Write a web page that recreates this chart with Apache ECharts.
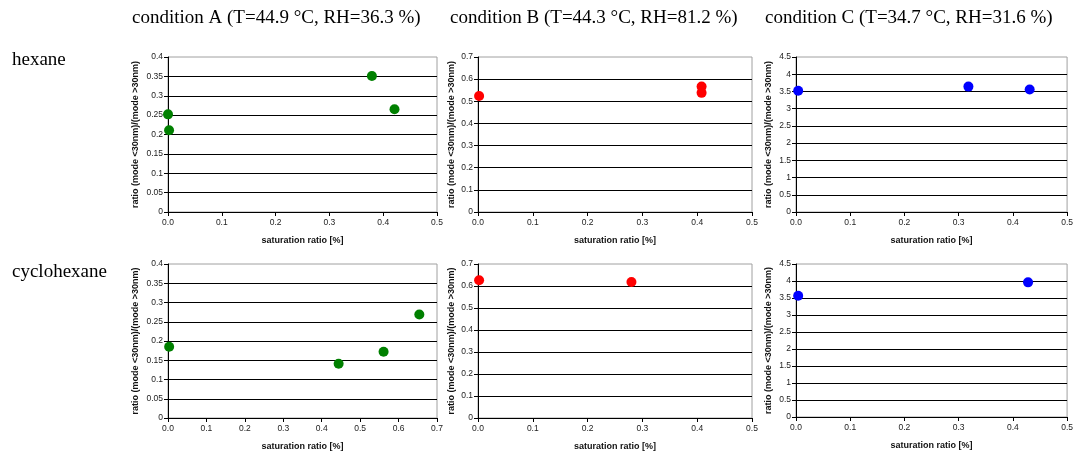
<!DOCTYPE html>
<html><head><meta charset="utf-8">
<script src="https://cdn.jsdelivr.net/npm/echarts@6/dist/echarts.min.js"></script>
<style>html,body{margin:0;padding:0;background:#fff}#c{width:1076px;height:452px}</style>
</head><body><div id="c"></div>
<script>
// Column / row labels
const columnTitles = ['condition A (T=44.9 \u00B0C, RH=36.3 %)', 'condition B (T=44.3 \u00B0C, RH=81.2 %)', 'condition C (T=34.7 \u00B0C, RH=31.6 %)'];
const rowTitles = ['hexane', 'cyclohexane'];
const xAxisTitle = 'saturation ratio [%]';
const yAxisTitle = 'ratio (mode <30nm)/(mode >30nm)';

// Data: [saturation ratio, ratio]
const hexaneA_x = [0.000, 0.002, 0.379, 0.421];
const hexaneA_y = [0.252, 0.211, 0.351, 0.265];
const hexaneB_x = [0.002, 0.408, 0.408];
const hexaneB_y = [0.524, 0.567, 0.538];
const hexaneC_x = [0.004, 0.318, 0.431];
const hexaneC_y = [3.52, 3.64, 3.555];
const cycloA_x = [0.003, 0.444, 0.561, 0.654];
const cycloA_y = [0.185, 0.141, 0.172, 0.269];
const cycloB_x = [0.002, 0.280];
const cycloB_y = [0.626, 0.618];
const cycloC_x = [0.004, 0.428];
const cycloC_y = [3.565, 3.96];

// axis ranges per panel
const xMax = [0.5, 0.5, 0.5, 0.7, 0.5, 0.5];
const yMax = [0.4, 0.7, 4.5, 0.4, 0.7, 4.5];
const yStep = [0.05, 0.1, 0.5, 0.05, 0.1, 0.5];
const colors = ['#008000', '#ff0000', '#0000ff', '#008000', '#ff0000', '#0000ff'];

const panelsX = [hexaneA_x, hexaneB_x, hexaneC_x, cycloA_x, cycloB_x, cycloC_x];
const panelsY = [hexaneA_y, hexaneB_y, hexaneC_y, cycloA_y, cycloB_y, cycloC_y];

const gridRects = [
  {left: 168, top: 57, width: 269, height: 155},
  {left: 478, top: 57, width: 274, height: 155},
  {left: 796, top: 57, width: 272, height: 155},
  {left: 168, top: 264, width: 269, height: 155},
  {left: 478, top: 264, width: 274, height: 155},
  {left: 796, top: 264, width: 272, height: 153}
];
const yNameGap = [28, 22, 23, 28, 22, 23];

const labelFont = {fontFamily: 'Liberation Sans, Arial', fontSize: 8.5, color: '#222'};
const nameFont = {fontFamily: 'Liberation Sans, Arial', fontSize: 9, fontWeight: 'bold', color: '#111'};

const grids = [], xAxes = [], yAxes = [], series = [];
for (let i = 0; i < 6; i++) {
  grids.push(Object.assign({show: true, borderColor: '#a0a0a0', borderWidth: 1, containLabel: false}, gridRects[i]));
  xAxes.push({
    type: 'value', gridIndex: i, min: 0, max: xMax[i], interval: 0.1,
    name: xAxisTitle, nameLocation: 'middle', nameGap: 24, nameTextStyle: nameFont,
    axisLine: {lineStyle: {color: '#000', width: 1}},
    axisTick: {show: true, inside: false, length: 4, lineStyle: {color: '#000'}},
    axisLabel: Object.assign({margin: 6, formatter: v => v.toFixed(1)}, labelFont),
    splitLine: {show: false}
  });
  yAxes.push({
    type: 'value', gridIndex: i, min: 0, max: yMax[i], interval: yStep[i],
    name: yAxisTitle, nameLocation: 'middle', nameGap: yNameGap[i], nameTextStyle: nameFont,
    axisLine: {lineStyle: {color: '#000', width: 1}},
    axisTick: {show: true, inside: false, length: 4, lineStyle: {color: '#000'}},
    axisLabel: Object.assign({margin: 5, formatter: v => String(+v.toFixed(2))}, labelFont),
    splitLine: {show: true, showMinLine: false, showMaxLine: false, lineStyle: {color: '#000', width: 1}}
  });
  series.push({
    type: 'scatter', xAxisIndex: i, yAxisIndex: i, clip: false,
    symbol: 'circle', symbolSize: 10,
    itemStyle: {color: colors[i], opacity: 1},
    data: panelsX[i].map((x, k) => [x, panelsY[i][k]])
  });
}

const serif = 'Liberation Serif, Times New Roman, serif';
const graphics = [];
const colLefts = [132, 450, 765];
columnTitles.forEach((t, i) => graphics.push({type: 'text', left: colLefts[i], top: 9, style: {text: t, font: '19px ' + serif, fill: '#000'}}));
const rowTops = [51, 263];
rowTitles.forEach((t, i) => graphics.push({type: 'text', left: 12, top: rowTops[i], style: {text: t, font: '19px ' + serif, fill: '#000'}}));

const chart = echarts.init(document.getElementById('c'), null, {renderer: 'canvas'});
chart.setOption({
  animation: false,
  backgroundColor: '#fff',
  grid: grids, xAxis: xAxes, yAxis: yAxes, series: series,
  graphic: graphics
});
</script></body></html>
